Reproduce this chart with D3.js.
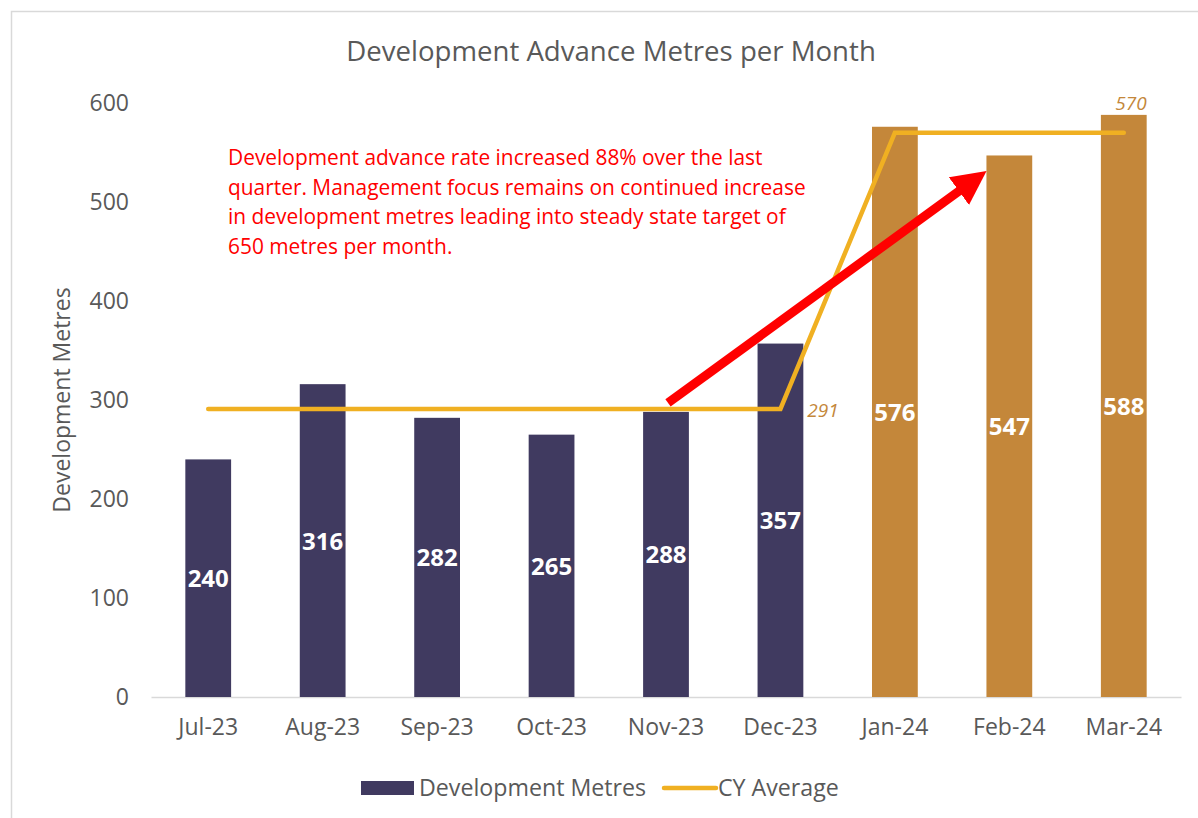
<!DOCTYPE html>
<html>
<head>
<meta charset="utf-8">
<style>
  body { margin: 0; background: #fff; }
  svg { display: block; font-family: "Open Sans", sans-serif; }
</style>
</head>
<body>
<svg id="chart" width="1198" height="818"></svg>
<script src="https://cdn.jsdelivr.net/npm/d3@7"></script>
<script>
  // chart values
  const months = ["Jul-23", "Aug-23", "Sep-23", "Oct-23", "Nov-23", "Dec-23", "Jan-24", "Feb-24", "Mar-24"];
  const metres = [240, 316, 282, 265, 288, 357, 576, 547, 588];
  const cyAverage = [291, 291, 291, 291, 291, 291, 570, 570, 570];
  const yTicks = [0, 100, 200, 300, 400, 500, 600];
  const note = [
    "Development advance rate increased 88% over the last",
    "quarter. Management focus remains on continued increase",
    "in development metres leading into steady state target of",
    "650 metres per month."
  ];

  const dark = "#403A60", gold = "#C4873A", lineCol = "#F0B022", grey = "#595959";

  const svg = d3.select("#chart");
  // outer chart border
  svg.append("rect").attr("x", 11.5).attr("y", 11.5).attr("width", 1200).attr("height", 820)
    .attr("fill", "none").attr("stroke", "#d9d9d9").attr("stroke-width", 1.5);

  const m = { left: 151, right: 1181, top: 103, bottom: 697 };
  const x = d3.scaleBand().domain(months).range([m.left, m.right]).paddingInner(0.6).paddingOuter(0.3);
  const y = d3.scaleLinear().domain([0, 600]).range([m.bottom, m.top]);

  svg.append("text").attr("x", 611).attr("y", 61).attr("text-anchor", "middle")
    .attr("font-size", 27.6).attr("fill", grey).text("Development Advance Metres per Month");

  // y axis (no line, no ticks)
  const yAxis = svg.append("g").attr("transform", `translate(${m.left},0)`)
    .call(d3.axisLeft(y).tickValues(yTicks).tickSize(0).tickPadding(22));
  yAxis.select(".domain").remove();
  yAxis.selectAll("text").attr("font-size", 23).attr("fill", grey).attr("font-family", "Open Sans");

  const xAxis = svg.append("g").attr("transform", `translate(0,${m.bottom})`)
    .call(d3.axisBottom(x).tickSize(0).tickPadding(22));
  xAxis.select(".domain").attr("stroke", "#d9d9d9").attr("stroke-width", 1.5);
  xAxis.selectAll("text").attr("font-size", 23).attr("fill", grey).attr("font-family", "Open Sans");

  svg.append("text").attr("transform", `translate(70,${(m.top + m.bottom) / 2}) rotate(-90)`)
    .attr("text-anchor", "middle").attr("font-size", 23).attr("fill", grey).text("Development Metres");

  // bars
  svg.append("g").selectAll("rect").data(months).join("rect")
    .attr("x", d => x(d)).attr("width", x.bandwidth())
    .attr("y", (d, i) => y(metres[i])).attr("height", (d, i) => y(0) - y(metres[i]))
    .attr("fill", (d, i) => i < 6 ? dark : gold);

  svg.append("g").selectAll("text").data(months).join("text")
    .attr("x", d => x(d) + x.bandwidth() / 2)
    .attr("y", (d, i) => (y(metres[i]) + y(0)) / 2 + 9)
    .attr("text-anchor", "middle").attr("font-size", 24).attr("font-weight", "bold")
    .attr("fill", "#fff").text((d, i) => metres[i]);

  // CY average line
  const line = d3.line().x((d, i) => x(months[i]) + x.bandwidth() / 2).y(d => y(d));
  svg.append("path").datum(cyAverage).attr("d", line).attr("fill", "none")
    .attr("stroke", lineCol).attr("stroke-width", 4.5).attr("stroke-linecap", "round");

  svg.append("text").attr("x", x(months[5]) + x.bandwidth() + 4).attr("y", y(cyAverage[5]) + 8)
    .attr("font-size", 19).attr("font-style", "italic").attr("fill", gold).text(cyAverage[5]);
  svg.append("text").attr("x", x(months[8]) + x.bandwidth()).attr("y", y(cyAverage[8]) - 23)
    .attr("text-anchor", "end").attr("font-size", 19).attr("font-style", "italic").attr("fill", gold).text(cyAverage[8]);

  // annotation
  svg.append("text").attr("fill", "#FF0000").attr("font-size", 20.9)
    .selectAll("tspan").data(note).join("tspan")
    .attr("x", 228).attr("y", (d, i) => 165 + i * 29.5).text(d => d);

  // arrow from Nov-23 towards Feb-24
  svg.append("defs").append("marker").attr("id", "head").attr("viewBox", "0 0 10 10")
    .attr("refX", 2).attr("refY", 5).attr("markerWidth", 3.8).attr("markerHeight", 3.8)
    .attr("orient", "auto").append("path").attr("d", "M0,0 L10,5 L0,10 Z").attr("fill", "#FF0000");
  svg.append("line")
    .attr("x1", x(months[4]) + x.bandwidth() / 2 + 2).attr("y1", y(297))
    .attr("x2", x(months[7]) - 22).attr("y2", y(515))
    .attr("stroke", "#FF0000").attr("stroke-width", 9).attr("marker-end", "url(#head)");

  // legend
  const lg = svg.append("g").attr("font-size", 23.2).attr("fill", grey);
  lg.append("rect").attr("x", 361).attr("y", 781).attr("width", 53).attr("height", 14).attr("fill", dark);
  lg.append("text").attr("x", 419).attr("y", 796).text("Development Metres");
  lg.append("line").attr("x1", 664).attr("x2", 716).attr("y1", 788).attr("y2", 788)
    .attr("stroke", lineCol).attr("stroke-width", 4.5).attr("stroke-linecap", "round");
  lg.append("text").attr("x", 718).attr("y", 796).text("CY Average");
</script>
</body>
</html>
